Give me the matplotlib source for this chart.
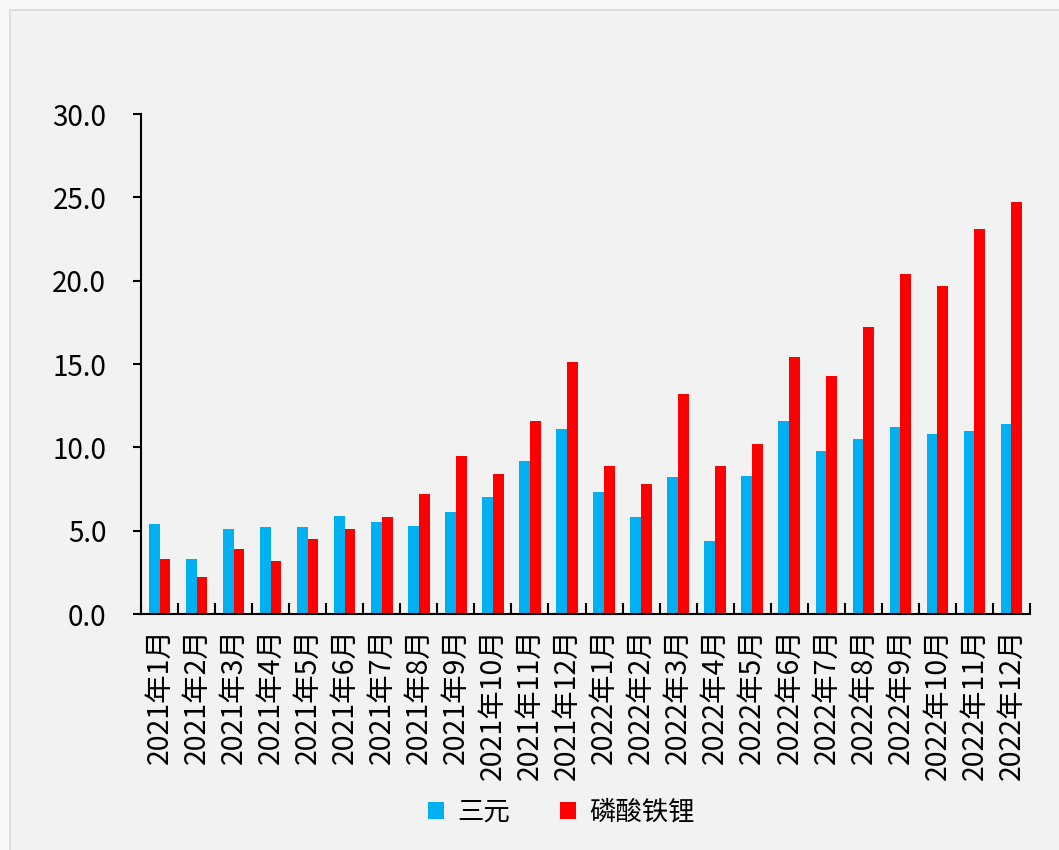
import numpy as np
from matplotlib import pyplot as plt
from matplotlib.lines import Line2D
from matplotlib.patches import Rectangle

plt.rcParams['font.family'] = ['Noto Sans CJK SC', 'DejaVu Sans']

# Datos
meses = ['2021年1月', '2021年2月', '2021年3月', '2021年4月', '2021年5月', '2021年6月',
         '2021年7月', '2021年8月', '2021年9月', '2021年10月', '2021年11月', '2021年12月',
         '2022年1月', '2022年2月', '2022年3月', '2022年4月', '2022年5月', '2022年6月',
         '2022年7月', '2022年8月', '2022年9月', '2022年10月', '2022年11月', '2022年12月']
sanyuan = [5.4, 3.3, 5.1, 5.2, 5.2, 5.9, 5.5, 5.3, 6.1, 7.0, 9.2, 11.1,
           7.3, 5.8, 8.2, 4.4, 8.3, 11.6, 9.8, 10.5, 11.2, 10.8, 11.0, 11.4]
lfp = [3.3, 2.2, 3.9, 3.2, 4.5, 5.1, 5.8, 7.2, 9.5, 8.4, 11.6, 15.1,
       8.9, 7.8, 13.2, 8.9, 10.2, 15.4, 14.3, 17.2, 20.4, 19.7, 23.1, 24.7]
nombres = ['三元', '磷酸铁锂']
colores = ['#00b0f0', '#ff0000']

fondo = '#f2f2f2'
fig = plt.figure(figsize=(10.59, 8.5), dpi=100, facecolor=fondo)

# Marco exterior (bordes claros arriba e izquierda)
fig.add_artist(Rectangle((0, 1 - 10 / 850), 1, 10 / 850, transform=fig.transFigure,
                         facecolor='#f8f8f8', edgecolor='none'))
fig.add_artist(Rectangle((0, 0), 10 / 1059, 1, transform=fig.transFigure,
                         facecolor='#f8f8f8', edgecolor='none'))
fig.add_artist(Line2D([10 / 1059, 1], [1 - 10 / 850, 1 - 10 / 850], transform=fig.transFigure,
                      color='#d9d9d9', linewidth=1.2))
fig.add_artist(Line2D([10 / 1059, 10 / 1059], [0, 1 - 10 / 850], transform=fig.transFigure,
                      color='#d9d9d9', linewidth=1.2))

ax = fig.add_axes([141 / 1059, 1 - 614 / 850, (1030 - 141) / 1059, 500 / 850])
ax.set_facecolor(fondo)

x = np.arange(len(meses))
ancho = 0.29
ax.bar(x - ancho / 2, sanyuan, width=ancho, color=colores[0], label=nombres[0])
ax.bar(x + ancho / 2, lfp, width=ancho, color=colores[1], label=nombres[1])

ax.set_xlim(-0.5, len(meses) - 0.5)
ax.set_ylim(0, 30)
ax.set_yticks(np.arange(0, 30.1, 5))
ax.set_yticklabels([f'{v:.1f}' for v in np.arange(0, 30.1, 5)], fontsize=20)
ax.tick_params(axis='y', direction='out', length=6, width=1.5, pad=19)

# Marcas del eje x en los limites de categoria, hacia adentro
ax.set_xticks(np.arange(-0.5, len(meses), 1))
ax.set_xticklabels([])
ax.tick_params(axis='x', which='major', direction='in', length=8, width=1.5)
ax.set_xticks(x, minor=True)
ax.set_xticklabels(meses, minor=True, rotation=90, fontsize=20.5)
ax.tick_params(axis='x', which='minor', length=0, pad=10)

for lado in ['top', 'right']:
    ax.spines[lado].set_visible(False)
for lado in ['left', 'bottom']:
    ax.spines[lado].set_linewidth(1.5)

fig.legend(loc='center', bbox_to_anchor=(0.53, 1 - 812 / 850), ncol=2, frameon=False,
           fontsize=19, handlelength=0.6, handleheight=0.6, columnspacing=1.9,
           handletextpad=0.5)

plt.savefig('out.png', dpi=100, facecolor=fondo)
